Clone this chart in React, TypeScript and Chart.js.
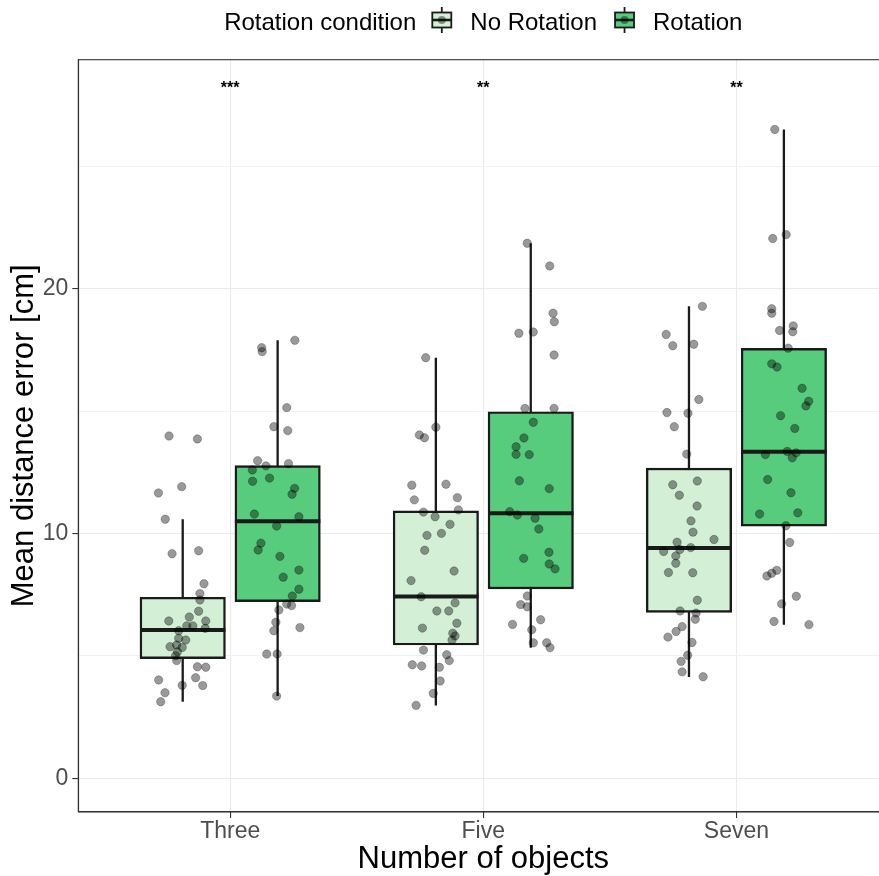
import React, { useEffect, useRef } from 'react';
import { Chart, registerables } from 'chart.js';

Chart.register(...registerables);

const FONT = '"Liberation Sans", Arial, Helvetica, sans-serif';

// ---- labels ----
const categories = ['Three', 'Five', 'Seven'];
const conditions = ['No Rotation', 'Rotation'];
const legendTitle = 'Rotation condition';
const xTitle = 'Number of objects';
const yTitle = 'Mean distance error [cm]';
const significance = ['***', '**', '**'];
const significanceY = 28.4;
const yTickValues = [0, 5, 10, 15, 20, 25];
const yLabelledTicks = [0, 10, 20];

// ---- box statistics (per category: Three, Five, Seven) ----
const noRotWhiskerLow = [3.13, 2.98, 4.14];
const noRotQ1 = [4.89, 5.45, 6.78];
const noRotMedian = [6.06, 7.43, 9.41];
const noRotQ3 = [7.4, 10.93, 12.68];
const noRotWhiskerHigh = [10.59, 17.19, 19.29];

const rotWhiskerLow = [3.36, 5.34, 6.28];
const rotQ1 = [7.22, 7.74, 10.31];
const rotMedian = [10.51, 10.83, 13.35];
const rotQ3 = [12.78, 14.98, 17.57];
const rotWhiskerHigh = [17.9, 21.87, 26.52];

// ---- individual participants (values and horizontal jitter) ----
const threeNoRotValues = [13.99, 13.87, 11.92, 11.66, 10.59, 9.18, 9.3, 7.95, 7.55, 7.29, 6.83, 6.43, 6.59, 6.43, 6.23, 6.23, 6.13, 6.03, 5.72, 5.65, 5.38, 5.45, 5.35, 5.17, 5.01, 4.81, 4.56, 4.54, 4.11, 4.02, 3.8, 3.79, 3.5, 3.13];
const threeNoRotJitter = [-0.054, 0.058, -0.004, -0.096, -0.069, -0.042, 0.063, 0.084, 0.068, 0.068, 0.063, -0.055, 0.026, 0.091, 0.016, 0.04, 0.089, -0.016, -0.016, 0.012, -0.05, -0.024, -0.002, -0.021, -0.028, -0.024, 0.058, 0.091, 0.051, -0.095, -0.002, 0.079, -0.07, -0.087];

const threeRotValues = [17.6, 17.44, 17.9, 15.15, 14.37, 14.21, 12.98, 12.77, 12.86, 12.6, 12.27, 12.14, 11.85, 11.61, 10.8, 10.69, 10.31, 9.61, 9.33, 9.07, 8.51, 8.22, 7.73, 7.45, 7.12, 7.06, 6.88, 6.38, 6.03, 6.16, 5.08, 5.08, 3.36];
const threeRotJitter = [-0.063, -0.061, 0.068, 0.036, -0.015, 0.04, -0.079, -0.046, 0.043, -0.1, -0.032, -0.099, 0.067, 0.057, -0.092, 0.084, -0.004, -0.066, -0.077, 0.009, 0.084, 0.022, 0.084, 0.058, 0.036, 0.055, 0.005, -0.007, -0.015, 0.088, -0.043, -0.002, -0.004];

const fiveNoRotValues = [17.19, 14.35, 14.03, 13.92, 11.98, 12.02, 11.38, 11.47, 10.97, 10.88, 10.69, 10.38, 10.01, 9.93, 9.32, 8.47, 8.08, 7.42, 7.17, 6.84, 6.84, 6.34, 6.14, 5.93, 5.82, 5.65, 5.24, 5.05, 4.81, 4.64, 4.59, 4.54, 3.98, 3.47, 2.98];
const fiveNoRotJitter = [-0.04, 0.0, -0.065, -0.045, -0.095, 0.04, -0.085, 0.085, 0.089, -0.049, -0.003, 0.056, 0.022, -0.035, -0.044, 0.072, -0.098, -0.058, 0.076, 0.004, 0.051, 0.083, -0.053, 0.067, 0.076, 0.064, -0.049, 0.043, 0.053, -0.093, -0.056, 0.014, 0.017, -0.01, -0.078];

const fiveRotValues = [21.87, 20.94, 19.01, 18.66, 18.19, 18.24, 17.3, 15.12, 15.12, 14.55, 13.91, 13.55, 13.24, 13.23, 12.16, 11.84, 10.9, 10.76, 10.63, 10.19, 9.24, 8.99, 8.76, 8.56, 7.45, 7.1, 7.01, 6.48, 6.29, 6.07, 5.54, 5.54, 5.34];
const fiveRotJitter = [-0.014, 0.075, 0.088, 0.093, -0.047, 0.01, 0.092, -0.023, 0.092, 0.01, -0.027, -0.058, -0.058, -0.006, -0.045, 0.073, -0.083, -0.053, 0.017, 0.032, 0.072, -0.028, 0.073, 0.096, -0.014, -0.04, -0.014, 0.039, -0.072, 0.004, 0.01, 0.063, 0.076];

const sevenNoRotValues = [19.29, 18.14, 17.68, 17.74, 15.48, 14.95, 14.92, 14.37, 13.25, 12.15, 12.0, 11.57, 11.13, 10.52, 10.06, 9.65, 9.76, 9.43, 9.35, 9.27, 9.09, 8.79, 8.41, 8.4, 7.28, 6.84, 6.75, 6.5, 6.2, 6.0, 5.77, 5.55, 5.03, 4.78, 4.35, 4.15];
const sevenNoRotJitter = [0.053, -0.09, -0.064, 0.019, 0.039, -0.087, -0.004, -0.058, -0.009, 0.033, -0.064, -0.038, 0.032, 0.008, 0.016, -0.047, 0.099, 0.007, -0.036, -0.1, -0.052, -0.052, -0.081, 0.015, 0.033, -0.035, 0.028, 0.025, -0.027, -0.051, -0.083, 0.012, -0.005, -0.031, -0.027, 0.056];

const sevenRotValues = [26.52, 22.22, 22.06, 19.19, 19.01, 18.49, 18.25, 18.3, 17.58, 16.94, 16.81, 15.94, 15.41, 15.22, 14.82, 14.3, 13.36, 13.3, 13.1, 13.23, 12.21, 11.67, 10.8, 10.85, 10.32, 9.64, 8.27, 8.38, 8.5, 7.44, 7.13, 6.41, 6.28];
const sevenRotJitter = [-0.036, 0.009, -0.044, -0.048, -0.048, 0.037, 0.035, -0.017, 0.017, -0.048, -0.027, 0.072, 0.098, 0.087, -0.013, 0.043, 0.013, 0.048, 0.033, -0.073, -0.064, 0.028, -0.096, 0.055, 0.008, 0.023, -0.067, -0.048, -0.028, 0.049, -0.009, -0.039, 0.099];

// ---- styling ----
const NOROT_FILL = '#D3F0D6';
const ROT_FILL = '#57CC7C';
const LINE_COLOR = '#1A1A1A';
const POINT_FILL = 'rgba(0,0,0,0.40)';
const POINT_BORDER = 'rgba(0,0,0,0.32)';
const DODGE = 0.1875;
const BOX_WIDTH = 0.3375;
const CANVAS_W = 900;
const CANVAS_H = 878;
const AREA_LEFT = 78.3;
const AREA_RIGHT = 888.3;
const X_MIN = 0.4;
const X_MAX = 3.6;
const UNIT_PX = (AREA_RIGHT - AREA_LEFT) / (X_MAX - X_MIN);

const noRotPoints = [
  [threeNoRotValues, threeNoRotJitter],
  [fiveNoRotValues, fiveNoRotJitter],
  [sevenNoRotValues, sevenNoRotJitter],
];
const rotPoints = [
  [threeRotValues, threeRotJitter],
  [fiveRotValues, fiveRotJitter],
  [sevenRotValues, sevenRotJitter],
];

function pointsFor(groups: number[][][], shift: number) {
  const out: { x: number; y: number }[] = [];
  groups.forEach(([vals, jit], ci) => {
    vals.forEach((v, k) => out.push({ x: ci + 1 + shift + jit[k], y: v }));
  });
  return out;
}

function boxesFor(q1: number[], q3: number[], shift: number) {
  return categories.map((_, i) => ({ x: i + 1 + shift, y: [q1[i], q3[i]] }));
}

function mediansFor(med: number[], shift: number) {
  const out: any[] = [];
  categories.forEach((_, i) => {
    const c = i + 1 + shift;
    out.push({ x: c - BOX_WIDTH / 2, y: med[i] }, { x: c + BOX_WIDTH / 2, y: med[i] }, { x: c, y: null });
  });
  return out;
}

function whiskersFor(lo: number[], hi: number[], shift: number) {
  const out: any[] = [];
  categories.forEach((_, i) => {
    const c = i + 1 + shift;
    out.push({ x: c, y: lo[i] }, { x: c, y: hi[i] }, { x: c, y: null });
  });
  return out;
}

const decorPlugin = {
  id: 'decor',
  afterDraw(chart: any) {
    const { ctx, chartArea, scales } = chart;
    ctx.save();
    // panel border
    ctx.strokeStyle = '#333333';
    ctx.lineWidth = 1.1;
    ctx.strokeRect(chartArea.left, chartArea.top, chartArea.right - chartArea.left, chartArea.bottom - chartArea.top);

    // significance stars
    ctx.fillStyle = '#000';
    ctx.font = `bold 16px ${FONT}`;
    ctx.textAlign = 'center';
    ctx.textBaseline = 'alphabetic';
    const sy = scales.y.getPixelForValue(significanceY);
    significance.forEach((s, i) => {
      ctx.fillText(s, scales.x.getPixelForValue(i + 1), sy + 0.57 * 16);
    });

    // legend
    ctx.font = `24px ${FONT}`;
    ctx.textAlign = 'left';
    const fills = [NOROT_FILL, ROT_FILL];
    const keyW = 19;
    const gapAfterTitle = 16;
    const gapKeyText = 19;
    const gapItems = 18;
    const titleW = ctx.measureText(legendTitle).width;
    const textWs = conditions.map((c) => ctx.measureText(c).width);
    let total = titleW;
    conditions.forEach((_, i) => {
      total += (i === 0 ? gapAfterTitle : gapItems) + keyW + gapKeyText + textWs[i];
    });
    let x = (chartArea.left + chartArea.right) / 2 - total / 2;
    const baseY = 29.5;
    const cy = 20;
    ctx.fillStyle = '#000';
    ctx.fillText(legendTitle, x, baseY);
    x += titleW;
    conditions.forEach((c, i) => {
      x += i === 0 ? gapAfterTitle : gapItems;
      const kx = x + keyW / 2;
      ctx.strokeStyle = LINE_COLOR;
      ctx.lineWidth = 1.8;
      ctx.beginPath();
      ctx.moveTo(kx, cy - 13);
      ctx.lineTo(kx, cy + 13);
      ctx.stroke();
      ctx.fillStyle = fills[i];
      ctx.fillRect(x, cy - 7.5, keyW, 15);
      ctx.strokeRect(x, cy - 7.5, keyW, 15);
      ctx.lineWidth = 2.6;
      ctx.beginPath();
      ctx.moveTo(x, cy);
      ctx.lineTo(x + keyW, cy);
      ctx.stroke();
      ctx.fillStyle = POINT_FILL;
      ctx.beginPath();
      ctx.arc(kx, cy, 4, 0, Math.PI * 2);
      ctx.fill();
      x += keyW + gapKeyText;
      ctx.fillStyle = '#000';
      ctx.fillText(c, x, baseY);
      x += textWs[i];
    });
    ctx.restore();
  },
};

export default function App() {
  const ref = useRef<HTMLCanvasElement>(null);
  useEffect(() => {
    if (!ref.current) return;
    const barThickness = BOX_WIDTH * UNIT_PX;
    const pointStyle = {
      backgroundColor: POINT_FILL,
      borderColor: POINT_BORDER,
      borderWidth: 0.8,
      pointRadius: 4.2,
      order: 0,
    };
    const medianStyle = {
      borderColor: LINE_COLOR,
      borderWidth: 4,
      borderCapStyle: 'butt',
      pointRadius: 0,
      spanGaps: false,
      order: 1,
    };
    const boxStyle = {
      borderColor: LINE_COLOR,
      borderWidth: 2.4,
      borderSkipped: false,
      barThickness,
      grouped: false,
      order: 2,
    };
    const whiskerStyle = {
      borderColor: LINE_COLOR,
      borderWidth: 2.3,
      borderCapStyle: 'butt',
      pointRadius: 0,
      spanGaps: false,
      order: 3,
    };
    const chart = new Chart(ref.current, {
      type: 'bar',
      data: {
        datasets: [
          { type: 'scatter', label: conditions[0] + ' points', data: pointsFor(noRotPoints as any, -DODGE), ...pointStyle },
          { type: 'scatter', label: conditions[1] + ' points', data: pointsFor(rotPoints as any, DODGE), ...pointStyle },
          { type: 'line', label: conditions[0] + ' median', data: mediansFor(noRotMedian, -DODGE), ...medianStyle },
          { type: 'line', label: conditions[1] + ' median', data: mediansFor(rotMedian, DODGE), ...medianStyle },
          { type: 'bar', label: conditions[0], data: boxesFor(noRotQ1, noRotQ3, -DODGE), backgroundColor: NOROT_FILL, ...boxStyle },
          { type: 'bar', label: conditions[1], data: boxesFor(rotQ1, rotQ3, DODGE), backgroundColor: ROT_FILL, ...boxStyle },
          { type: 'line', label: conditions[0] + ' whiskers', data: whiskersFor(noRotWhiskerLow, noRotWhiskerHigh, -DODGE), ...whiskerStyle },
          { type: 'line', label: conditions[1] + ' whiskers', data: whiskersFor(rotWhiskerLow, rotWhiskerHigh, DODGE), ...whiskerStyle },
        ] as any,
      },
      options: {
        animation: false,
        responsive: false,
        maintainAspectRatio: false,
        devicePixelRatio: 1,
        layout: { padding: { top: 59.7, right: CANVAS_W - AREA_RIGHT, left: 0, bottom: 0 } },
        plugins: { legend: { display: false }, tooltip: { enabled: false } },
        events: [],
        scales: {
          x: {
            type: 'linear',
            min: X_MIN,
            max: X_MAX,
            offset: false,
            afterBuildTicks: (s: any) => {
              s.ticks = categories.map((_, i) => ({ value: i + 1 }));
            },
            afterFit: (s: any) => {
              s.height = CANVAS_H - 812;
            },
            ticks: {
              autoSkip: false,
              maxRotation: 0,
              padding: 0,
              color: '#4D4D4D',
              font: { family: FONT, size: 23 },
              callback: (v: any) => categories[Math.round(Number(v)) - 1],
            },
            grid: {
              offset: false,
              color: '#EBEBEB',
              lineWidth: 1.1,
              tickLength: 6,
              tickColor: '#333333',
              tickWidth: 1.1,
            },
            border: { color: '#333333', width: 1.1 },
            title: {
              display: true,
              text: xTitle,
              color: '#000',
              font: { family: FONT, size: 31 },
              padding: { top: 0, bottom: 0 },
            },
          },
          y: {
            type: 'linear',
            min: -1.377,
            max: 29.37,
            afterBuildTicks: (s: any) => {
              s.ticks = yTickValues.map((v) => ({ value: v }));
            },
            afterFit: (s: any) => {
              s.width = AREA_LEFT;
            },
            ticks: {
              padding: 4,
              color: '#4D4D4D',
              font: { family: FONT, size: 23 },
              callback: (v: any) => (yLabelledTicks.includes(Number(v)) ? String(v) : ''),
            },
            grid: {
              color: (c: any) => (c.tick && yLabelledTicks.includes(c.tick.value) ? '#EBEBEB' : '#F2F2F2'),
              lineWidth: (c: any) => (c.tick && yLabelledTicks.includes(c.tick.value) ? 1.1 : 1),
              tickLength: 6,
              tickColor: (c: any) => (c.tick && yLabelledTicks.includes(c.tick.value) ? '#333333' : 'rgba(0,0,0,0)'),
              tickWidth: 1.1,
            },
            border: { color: '#333333', width: 1.1 },
            title: {
              display: true,
              text: yTitle,
              color: '#000',
              font: { family: FONT, size: 31 },
              padding: { top: 5.4, bottom: 0 },
            },
          },
        },
      } as any,
      plugins: [decorPlugin],
    });
    return () => chart.destroy();
  }, []);

  return (
    <div
      style={{
        position: 'fixed',
        left: 0,
        top: 0,
        width: 879,
        height: 876,
        overflow: 'hidden',
        background: '#fff',
      }}
    >
      <canvas ref={ref} width={CANVAS_W} height={CANVAS_H} style={{ display: 'block' }} />
    </div>
  );
}
